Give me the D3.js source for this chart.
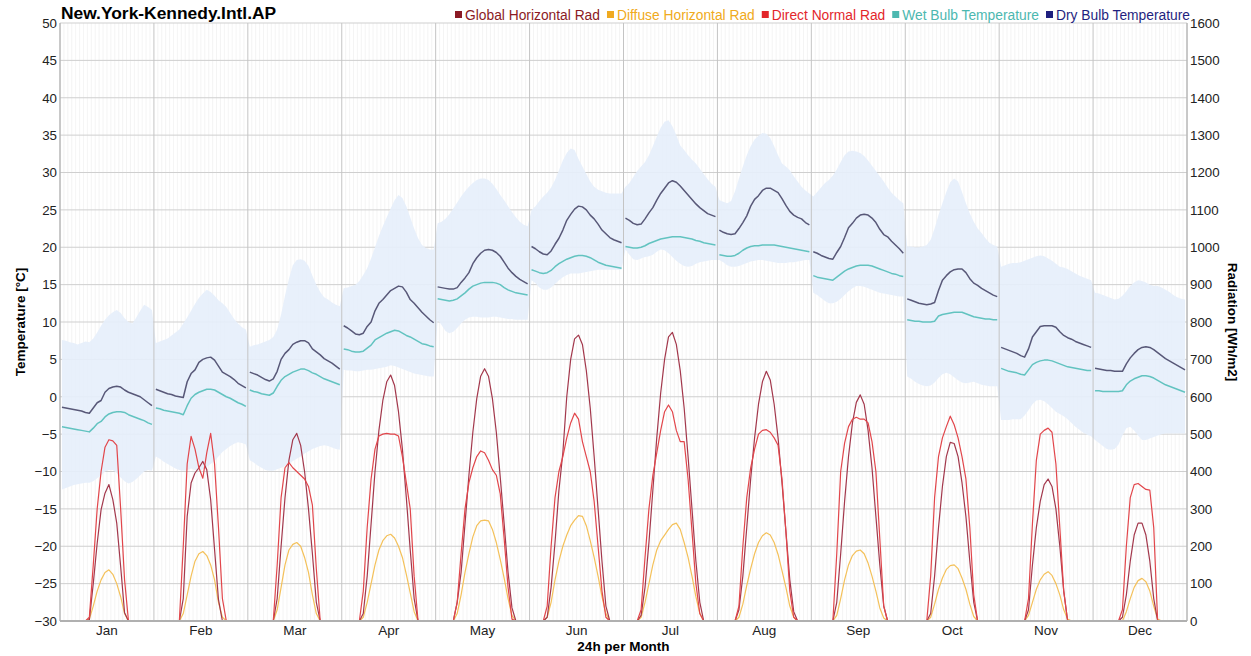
<!DOCTYPE html>
<html>
<head>
<meta charset="utf-8">
<script src="https://cdn.jsdelivr.net/npm/d3@7"></script>
<style>
  body { margin: 0; background: #fff; }
  svg { font-family: "Liberation Sans", Arial, sans-serif; }
</style>
</head>
<body>
<div id="chart"></div>
<script>
// ---- data (hourly averages, 24 values per month) ----
const months = ["Jan", "Feb", "Mar", "Apr", "May", "Jun", "Jul", "Aug", "Sep", "Oct", "Nov", "Dec"];
const tempTicks = [-30, -25, -20, -15, -10, -5, 0, 5, 10, 15, 20, 25, 30, 35, 40, 45, 50];
const radTicks = [0, 100, 200, 300, 400, 500, 600, 700, 800, 900, 1000, 1100, 1200, 1300, 1400, 1500, 1600];

const dryBulb = [
  [-1.4,-1.5,-1.6,-1.7,-1.8,-1.9,-2.1,-2.2,-1.5,-0.8,-0.5,0.6,1.1,1.3,1.4,1.3,0.9,0.6,0.4,0.2,0.0,-0.4,-0.8,-1.2],
  [1.0,0.8,0.6,0.4,0.3,0.1,0.0,-0.1,2.0,3.1,3.6,4.6,5.0,5.2,5.3,4.9,4.1,3.3,3.0,2.7,2.3,1.8,1.5,1.2],
  [3.3,3.1,2.9,2.6,2.3,2.1,2.4,3.4,5.0,5.8,6.3,7.0,7.3,7.5,7.5,7.2,6.4,6.0,5.6,5.1,4.8,4.5,4.1,3.7],
  [9.5,9.2,8.8,8.4,8.3,8.5,9.4,10.0,11.5,12.5,13.0,13.6,14.2,14.5,14.8,14.7,14.0,13.0,12.5,11.9,11.3,10.8,10.3,9.9],
  [14.7,14.6,14.5,14.4,14.4,14.6,15.3,15.9,16.6,17.8,18.6,19.2,19.6,19.7,19.6,19.3,18.8,18.0,17.2,16.6,16.1,15.7,15.4,15.1],
  [20.1,19.8,19.4,19.1,19.0,19.5,20.4,21.2,22.3,23.6,24.4,25.1,25.5,25.4,25.0,24.3,23.8,23.1,22.3,21.8,21.3,21.0,20.8,20.6],
  [23.9,23.6,23.2,23.0,23.1,23.8,24.6,25.3,26.3,27.2,27.9,28.6,28.9,28.7,28.2,27.6,27.0,26.4,25.8,25.3,24.9,24.5,24.3,24.1],
  [22.3,22.0,21.8,21.7,21.8,22.5,23.3,24.2,25.5,26.4,26.9,27.6,27.9,27.9,27.6,27.3,26.5,25.6,24.8,24.3,24.0,23.8,23.3,23.0],
  [19.4,19.2,18.9,18.7,18.5,18.4,19.3,20.1,21.3,22.6,23.2,23.9,24.3,24.4,24.3,23.9,23.3,22.4,21.7,21.4,20.8,20.3,19.8,19.2],
  [13.1,12.9,12.7,12.5,12.4,12.3,12.4,12.6,14.2,15.6,16.2,16.7,17.0,17.1,17.1,16.6,15.8,15.2,14.9,14.5,14.2,13.9,13.6,13.4],
  [6.6,6.4,6.2,6.0,5.8,5.5,5.3,6.4,8.0,8.7,9.4,9.5,9.5,9.5,9.3,8.7,8.2,7.9,7.7,7.4,7.2,7.0,6.8,6.6],
  [3.8,3.7,3.6,3.5,3.5,3.4,3.4,3.4,4.4,5.2,5.8,6.3,6.6,6.7,6.6,6.3,5.9,5.5,5.1,4.8,4.5,4.2,3.9,3.6]
];

const wetBulb = [
  [-4.0,-4.1,-4.2,-4.3,-4.4,-4.5,-4.6,-4.7,-4.2,-3.6,-3.3,-2.7,-2.3,-2.1,-2.0,-2.0,-2.1,-2.4,-2.6,-2.8,-3.0,-3.2,-3.5,-3.7],
  [-1.5,-1.6,-1.8,-1.9,-2.0,-2.1,-2.2,-2.4,-1.2,-0.2,0.3,0.6,0.8,1.0,1.0,0.9,0.6,0.3,0.0,-0.2,-0.5,-0.8,-1.0,-1.3],
  [0.9,0.7,0.6,0.4,0.3,0.2,0.5,1.4,2.2,2.7,3.0,3.3,3.5,3.7,3.7,3.5,3.2,3.0,2.7,2.4,2.2,2.0,1.8,1.6],
  [6.4,6.3,6.1,6.0,6.0,6.1,6.5,6.9,7.6,7.9,8.2,8.5,8.7,8.9,8.8,8.5,8.2,8.0,7.7,7.4,7.1,7.0,6.8,6.7],
  [13.1,13.0,12.9,12.8,12.9,13.1,13.5,13.9,14.4,14.8,15.0,15.2,15.3,15.3,15.3,15.2,15.0,14.6,14.3,14.1,13.9,13.8,13.7,13.6],
  [17.0,16.8,16.6,16.5,16.6,16.9,17.4,17.8,18.1,18.4,18.6,18.8,18.9,18.9,18.8,18.6,18.3,18.0,17.8,17.6,17.5,17.4,17.3,17.2],
  [20.1,20.0,19.9,19.9,20.0,20.2,20.5,20.7,20.9,21.1,21.2,21.3,21.4,21.4,21.4,21.3,21.2,21.1,20.9,20.8,20.6,20.5,20.4,20.3],
  [19.0,18.9,18.8,18.8,18.9,19.2,19.6,19.9,20.1,20.2,20.2,20.3,20.3,20.3,20.3,20.2,20.1,20.0,19.9,19.8,19.7,19.6,19.5,19.4],
  [16.2,16.0,15.9,15.8,15.7,15.6,16.0,16.4,16.8,17.1,17.3,17.5,17.6,17.6,17.6,17.5,17.3,17.1,16.9,16.7,16.5,16.4,16.2,16.1],
  [10.3,10.2,10.1,10.1,10.0,10.0,10.0,10.1,10.8,11.0,11.1,11.2,11.3,11.3,11.3,11.1,10.9,10.7,10.6,10.5,10.4,10.4,10.3,10.3],
  [3.8,3.6,3.4,3.3,3.2,3.0,2.9,3.6,4.3,4.6,4.8,4.9,4.9,4.8,4.6,4.4,4.2,4.0,3.9,3.8,3.7,3.6,3.5,3.5],
  [0.8,0.8,0.7,0.7,0.7,0.7,0.7,0.8,1.6,2.1,2.4,2.6,2.8,2.8,2.7,2.5,2.2,1.9,1.6,1.4,1.2,1.0,0.8,0.6]
];

// dry bulb range (min / max per hour)
const dryMax = [
  [7.6,7.5,7.3,7.2,7.0,7.2,7.4,7.3,7.8,8.6,9.5,10.3,10.9,11.3,11.6,11.2,10.5,10.0,9.8,10.6,11.5,12.3,12.0,11.6],
  [7.2,7.4,7.6,7.8,8.2,8.6,9.0,9.8,10.6,11.5,12.4,13.2,13.8,14.3,14.0,13.5,12.9,12.5,12.0,11.2,10.4,9.8,9.3,9.0],
  [6.7,6.9,7.0,7.2,7.4,7.6,8.0,9.0,11.0,13.5,15.8,17.6,18.3,18.4,18.2,17.5,16.2,15.0,14.0,13.3,13.0,12.6,12.3,12.1],
  [14.5,14.6,14.8,15.0,15.5,16.3,17.2,18.5,20.0,21.5,22.8,24.0,25.2,26.3,27.0,26.6,25.5,24.0,22.5,21.2,20.3,19.9,19.7,19.7],
  [23.2,23.4,23.8,24.4,25.2,26.0,26.8,27.5,28.1,28.6,29.0,29.2,29.2,29.0,28.5,27.8,27.0,26.3,25.5,24.7,24.0,23.4,23.0,22.8],
  [25.0,25.5,26.2,26.8,27.3,28.0,29.0,30.3,31.6,32.6,33.2,33.0,31.8,30.8,29.8,28.8,28.1,27.7,27.5,27.3,27.2,27.2,27.2,27.2],
  [28.1,28.6,29.4,30.2,30.8,31.4,32.3,33.5,34.8,36.0,36.8,37.0,36.2,35.0,33.6,33.0,32.3,31.7,31.2,30.5,29.8,29.1,28.5,28.1],
  [26.3,26.1,25.9,26.2,27.5,29.2,30.8,32.3,33.5,34.4,34.9,35.3,35.2,34.6,33.5,32.3,31.2,30.8,30.3,29.5,28.8,28.1,27.6,27.2],
  [26.8,27.4,28.0,28.6,29.0,29.6,30.4,31.4,32.3,32.8,32.9,32.8,32.6,32.2,31.6,30.9,30.2,29.5,28.8,28.0,27.3,26.8,26.3,25.9],
  [20.1,20.1,20.0,20.0,20.1,20.3,21.0,22.5,24.3,25.9,27.4,28.7,29.2,28.8,27.4,25.9,24.5,23.4,22.5,21.9,21.2,20.6,20.3,20.1],
  [17.4,17.6,17.8,17.9,17.9,18.0,18.2,18.4,18.6,18.8,18.9,18.8,18.5,18.2,17.8,17.4,17.3,17.1,16.8,16.5,16.2,16.0,15.8,15.6],
  [13.9,13.8,13.6,13.4,13.2,13.0,13.1,13.5,14.1,14.8,15.3,15.6,15.5,15.3,15.0,14.8,14.8,14.6,14.3,14.0,13.6,13.3,13.1,13.0]
];
const dryMin = [
  [-12.4,-12.2,-12.0,-11.8,-11.7,-11.6,-11.5,-11.5,-11.3,-10.9,-10.5,-10.0,-9.8,-9.8,-10.2,-10.8,-11.3,-11.6,-11.4,-11.0,-10.5,-10.0,-9.8,-9.9],
  [-8.0,-8.3,-8.7,-9.0,-9.3,-9.6,-9.8,-9.9,-9.8,-9.6,-9.8,-9.9,-9.7,-9.4,-9.0,-8.6,-8.0,-7.4,-7.0,-6.6,-6.3,-6.1,-6.2,-6.4],
  [-8.5,-8.8,-9.2,-9.5,-9.8,-9.9,-9.9,-9.7,-9.5,-9.3,-9.0,-8.6,-8.3,-8.0,-7.6,-7.3,-7.0,-6.8,-6.6,-6.5,-6.6,-6.8,-7.0,-7.1],
  [3.6,3.5,3.5,3.4,3.4,3.5,3.6,3.6,3.7,3.8,3.9,4.0,4.2,4.1,3.9,3.7,3.5,3.3,3.1,3.0,2.9,2.8,2.7,2.7],
  [10.3,9.6,8.8,8.5,8.7,9.2,9.8,10.3,10.6,10.7,10.7,10.6,10.6,10.6,10.7,10.7,10.6,10.5,10.4,10.4,10.3,10.3,10.3,10.3],
  [15.6,15.2,14.6,14.3,14.3,14.6,15.1,15.6,16.0,16.3,16.5,16.5,16.5,16.6,16.7,16.8,16.9,17.0,17.0,17.0,17.0,17.0,17.0,17.0],
  [19.7,19.0,18.4,18.3,18.5,18.7,18.8,19.0,19.4,19.7,19.6,19.2,18.7,18.2,17.8,17.5,17.4,17.5,17.8,18.0,18.1,18.2,18.3,18.3],
  [18.3,18.0,17.6,17.4,17.4,17.5,17.7,17.9,18.1,18.2,18.3,18.3,18.2,18.1,18.0,17.9,17.9,17.9,18.0,18.0,18.1,18.2,18.3,18.3],
  [13.9,13.6,13.2,12.8,12.5,12.5,12.7,13.1,13.6,14.1,14.5,14.8,14.8,14.7,14.5,14.3,14.1,13.9,13.8,13.7,13.6,13.5,13.4,13.4],
  [2.7,2.4,2.0,1.7,1.5,1.4,1.5,1.9,2.5,3.0,3.2,3.0,2.6,2.2,1.9,1.8,1.9,2.0,1.8,1.6,1.5,1.4,1.4,1.4],
  [-3.1,-3.1,-3.1,-3.0,-3.0,-3.0,-2.5,-1.8,-1.0,-0.5,-0.4,-0.6,-1.0,-1.5,-2.0,-2.3,-2.6,-3.0,-3.5,-4.0,-4.4,-4.8,-5.1,-5.3],
  [-5.8,-6.2,-6.6,-7.0,-7.1,-7.0,-6.4,-5.2,-4.2,-4.0,-4.5,-5.2,-5.8,-5.8,-5.6,-5.4,-5.2,-5.0,-4.9,-4.9,-4.9,-4.9,-4.9,-4.9]
];

// radiation [Wh/m2]
const globalRad = [
  [0,0,0,0,0,0,0,3,100,208,298,342,365,325,262,146,22,0,0,0,0,0,0,0],
  [0,0,0,0,0,0,0,60,280,369,396,410,427,405,325,191,57,0,0,0,0,0,0,0],
  [0,0,0,0,0,0,0,60,200,330,430,485,502,470,400,300,180,50,0,0,0,0,0,0],
  [0,0,0,0,0,20,120,260,400,510,590,640,658,630,560,460,330,190,60,0,0,0,0,0],
  [0,0,0,0,0,50,130,260,390,505,595,655,675,655,595,505,385,260,130,35,0,0,0,0],
  [0,0,0,0,10,90,210,350,450,600,700,755,765,740,670,570,440,300,160,40,0,0,0,0],
  [0,0,0,0,15,90,210,350,490,610,700,760,772,740,670,570,440,300,160,50,0,0,0,0],
  [0,0,0,0,0,30,120,250,380,490,580,640,668,645,580,490,370,240,110,25,0,0,0,0],
  [0,0,0,0,0,0,50,180,320,440,530,585,605,580,510,410,280,150,40,0,0,0,0,0],
  [0,0,0,0,0,0,20,120,250,360,440,478,475,440,370,280,160,50,0,0,0,0,0,0],
  [0,0,0,0,0,0,0,30,150,250,320,365,380,360,300,200,80,0,0,0,0,0,0,0],
  [0,0,0,0,0,0,0,10,70,160,230,262,262,230,160,60,0,0,0,0,0,0,0,0]
];
const diffuseRad = [
  [0,0,0,0,0,0,0,5,40,80,110,130,137,125,100,65,20,0,0,0,0,0,0,0],
  [0,0,0,0,0,0,0,20,70,120,160,180,186,175,150,110,50,10,0,0,0,0,0,0],
  [0,0,0,0,0,0,0,30,90,150,190,205,210,200,170,130,70,20,0,0,0,0,0,0],
  [0,0,0,0,0,10,50,100,150,190,215,228,232,222,200,170,125,75,25,0,0,0,0,0],
  [0,0,0,0,0,20,70,130,180,225,255,268,270,268,245,210,165,115,60,15,0,0,0,0],
  [0,0,0,0,10,50,110,160,200,230,255,270,282,280,255,215,170,120,65,20,0,0,0,0],
  [0,0,0,0,10,50,100,150,190,215,230,245,258,262,245,210,170,120,65,20,0,0,0,0],
  [0,0,0,0,0,10,45,95,140,180,210,228,236,230,210,178,135,90,40,10,0,0,0,0],
  [0,0,0,0,0,0,15,60,110,150,175,187,190,180,155,120,80,35,8,0,0,0,0,0],
  [0,0,0,0,0,0,10,45,85,115,138,148,150,140,115,85,45,12,0,0,0,0,0,0],
  [0,0,0,0,0,0,0,15,50,85,110,125,132,122,100,70,30,5,0,0,0,0,0,0],
  [0,0,0,0,0,0,0,0,25,60,90,108,114,105,80,40,5,0,0,0,0,0,0,0]
];
const directRad = [
  [0,0,0,0,0,0,0,10,150,300,400,465,485,482,470,300,110,0,0,0,0,0,0,0],
  [0,0,0,0,0,0,0,200,420,494,460,410,382,450,502,420,250,60,0,0,0,0,0,0],
  [0,0,0,0,0,0,0,150,330,410,424,410,400,390,380,360,310,140,0,0,0,0,0,0],
  [0,0,0,0,0,80,250,380,460,495,500,502,500,500,495,440,370,300,120,0,0,0,0,0],
  [0,0,0,0,0,50,180,300,370,410,440,455,450,430,405,390,340,220,90,5,0,0,0,0],
  [0,0,0,0,40,200,330,400,440,490,530,556,540,480,440,400,320,200,80,10,0,0,0,0],
  [0,0,0,0,30,170,300,390,450,510,560,578,560,510,480,480,380,240,100,20,0,0,0,0],
  [0,0,0,0,0,40,200,330,410,460,500,510,512,505,490,470,380,240,80,10,0,0,0,0],
  [0,0,0,0,0,0,180,400,476,520,540,545,540,540,530,480,400,220,40,0,0,0,0,0],
  [0,0,0,0,0,0,120,330,440,490,520,548,525,490,440,380,250,70,0,0,0,0,0,0],
  [0,0,0,0,0,0,0,60,260,430,500,510,516,505,420,250,80,0,0,0,0,0,0,0],
  [0,0,0,0,0,0,0,30,200,330,365,368,360,352,350,250,0,0,0,0,0,0,0,0]
];

// ==== SVG AND SCALES ====
const W = 1251, H = 656;
const plotL = 60, plotR = 1187, plotT = 23, plotB = 621;

const svg = d3.select("#chart").append("svg")
  .attr("width", W).attr("height", H);

const x = d3.scaleLinear().domain([0, 288]).range([plotL, plotR]);
const yT = d3.scaleLinear().domain([-30, 50]).range([plotB, plotT]);
const yR = d3.scaleLinear().domain([0, 1600]).range([plotB, plotT]);

// hourly minor grid
svg.append("g").selectAll("line")
  .data(d3.range(1, 288).filter((i) => i % 24 !== 0))
  .enter().append("line")
  .attr("x1", (d) => x(d)).attr("x2", (d) => x(d))
  .attr("y1", plotT).attr("y2", plotB)
  .attr("stroke", "#ececec").attr("stroke-width", 0.6);

// horizontal grid
svg.append("g").selectAll("line")
  .data(tempTicks)
  .enter().append("line")
  .attr("x1", plotL).attr("x2", plotR)
  .attr("y1", (d) => yT(d)).attr("y2", (d) => yT(d))
  .attr("stroke", "#cfcfcf").attr("stroke-width", 1);

// dry bulb range band
const band = [];
months.forEach((m, i) => {
  for (let h = 0; h < 24; h++) band.push({ i: i * 24 + h, lo: dryMin[i][h], hi: dryMax[i][h] });
});
svg.append("path")
  .datum(band)
  .attr("fill", "#e5eefb")
  .attr("opacity", 0.9)
  .attr("d", d3.area()
    .x((d) => x(d.i + 0.5))
    .y0((d) => yT(d.lo))
    .y1((d) => yT(d.hi)));

// month separators
svg.append("g").selectAll("line")
  .data(d3.range(0, 13))
  .enter().append("line")
  .attr("x1", (d) => x(d * 24)).attr("x2", (d) => x(d * 24))
  .attr("y1", plotT).attr("y2", plotB)
  .attr("stroke", "#c4c4c4").attr("stroke-width", 1);

// ==== LINES ====
const series = [
  { data: diffuseRad, y: yR, color: "#f4c15a", width: 1.2 },
  { data: globalRad, y: yR, color: "#a3384c", width: 1.2 },
  { data: directRad, y: yR, color: "#e2464b", width: 1.2 },
  { data: wetBulb, y: yT, color: "#62c3c0", width: 1.5 },
  { data: dryBulb, y: yT, color: "#585878", width: 1.5 }
];

series.forEach((s) => {
  s.data.forEach((vals, i) => {
    const line = d3.line()
      .x((d, h) => x(i * 24 + h + 0.5))
      .y((d) => s.y(d));
    svg.append("path")
      .attr("d", line(vals))
      .attr("fill", "none")
      .attr("stroke", s.color)
      .attr("stroke-width", s.width)
      .attr("stroke-linejoin", "round");
  });
});

// ==== AXES ====
svg.append("line")
  .attr("x1", plotL).attr("x2", plotR).attr("y1", plotB).attr("y2", plotB)
  .attr("stroke", "#b0b0b0").attr("stroke-width", 2);
svg.append("line")
  .attr("x1", plotL).attr("x2", plotL).attr("y1", plotT).attr("y2", plotB)
  .attr("stroke", "#b0b0b0");
svg.append("line")
  .attr("x1", plotR).attr("x2", plotR).attr("y1", plotT).attr("y2", plotB)
  .attr("stroke", "#b0b0b0");

const axisL = svg.append("g")
  .attr("transform", `translate(${plotL},0)`)
  .call(d3.axisLeft(yT).tickValues(tempTicks).tickSize(0).tickPadding(3));
const axisR = svg.append("g")
  .attr("transform", `translate(${plotR},0)`)
  .call(d3.axisRight(yR).tickValues(radTicks).tickSize(0).tickPadding(3).tickFormat(d3.format("d")));
[axisL, axisR].forEach((g) => {
  g.select(".domain").remove();
  g.selectAll("text").attr("font-size", "13.3px").attr("fill", "#222")
    .style("font-family", "'Liberation Sans', Arial, sans-serif");
});

// month labels
svg.selectAll(".mLabel")
  .data(months)
  .enter().append("text")
  .attr("x", (d, i) => x(i * 24 + 12))
  .attr("y", 635)
  .attr("text-anchor", "middle")
  .attr("font-size", "13.5px")
  .attr("fill", "#222")
  .text((d) => d);

svg.append("text")
  .attr("x", (plotL + plotR) / 2).attr("y", 651)
  .attr("text-anchor", "middle")
  .attr("font-size", "13.5px").attr("font-weight", "bold")
  .text("24h per Month");

svg.append("text")
  .attr("transform", `translate(25,${(plotT + plotB) / 2}) rotate(-90)`)
  .attr("text-anchor", "middle")
  .attr("font-size", "13.5px").attr("font-weight", "bold")
  .text("Temperature [°C]");

svg.append("text")
  .attr("transform", `translate(1228,${(plotT + plotB) / 2}) rotate(90)`)
  .attr("text-anchor", "middle")
  .attr("font-size", "13.5px").attr("font-weight", "bold")
  .text("Radiation [Wh/m2]");

// title
svg.append("text")
  .attr("x", 61).attr("y", 19)
  .attr("font-size", "17.4px").attr("font-weight", "bold")
  .text("New.York-Kennedy.Intl.AP");

// ==== LEGEND ====
const legendItems = [
  { name: "Global Horizontal Rad", color: "#8b1a24" },
  { name: "Diffuse Horizontal Rad", color: "#f0aa20" },
  { name: "Direct Normal Rad", color: "#e3262b" },
  { name: "Wet Bulb Temperature", color: "#4cb8b0" },
  { name: "Dry Bulb Temperature", color: "#1f1f7f" }
];
let lx = 455;
legendItems.forEach((d) => {
  svg.append("rect")
    .attr("x", lx).attr("y", 11).attr("width", 7).attr("height", 7)
    .attr("fill", d.color);
  const t = svg.append("text")
    .attr("x", lx + 10).attr("y", 20)
    .attr("font-size", "13.8px")
    .attr("fill", d.color)
    .text(d.name);
  lx += 10 + t.node().getComputedTextLength() + 7;
});
</script>
</body>
</html>
